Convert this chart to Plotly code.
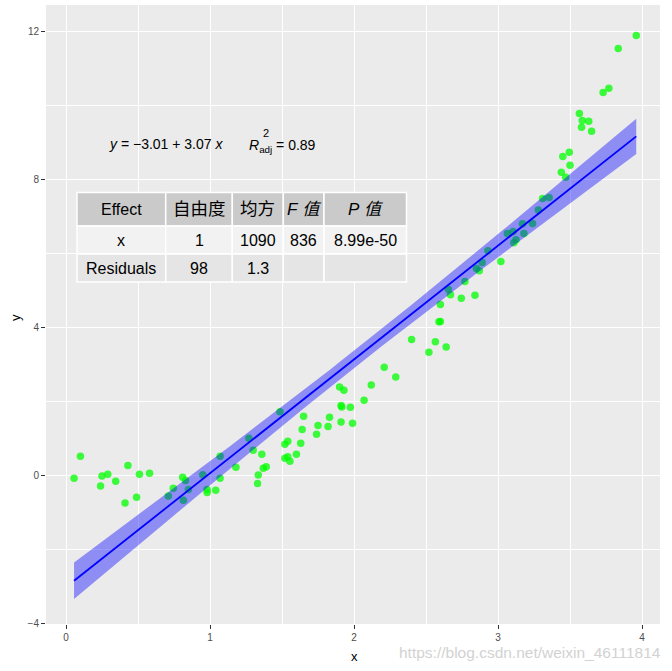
import numpy as np
import plotly.graph_objects as go

# ---------------- data ----------------
x_vals = [0.056, 0.10, 0.24, 0.25, 0.29, 0.345, 0.41, 0.43, 0.49, 0.51,
          0.58, 0.71, 0.745, 0.81, 0.815, 0.83, 0.85, 0.95, 0.98, 0.98,
          1.04, 1.07, 1.07, 1.18, 1.27, 1.30, 1.33, 1.335, 1.36, 1.37,
          1.39, 1.486, 1.52, 1.54, 1.52, 1.54, 1.555, 1.60, 1.63, 1.64,
          1.65, 1.74, 1.75, 1.82, 1.83, 1.90, 1.93, 1.91, 1.91, 1.915,
          1.975, 1.99, 2.07, 2.12, 2.21, 2.29, 2.40, 2.52, 2.565, 2.64,
          2.59, 2.60, 2.60, 2.655, 2.67, 2.745, 2.77, 2.84, 2.85, 2.87,
          2.89, 2.93, 3.02, 3.065, 3.105, 3.125, 3.11, 3.17, 3.18, 3.24,
          3.28, 3.31, 3.355, 3.44, 3.47, 3.45, 3.495, 3.50, 3.565, 3.585,
          3.63, 3.58, 3.65, 3.73, 3.77, 3.835, 3.96]
y_vals = [-0.09, 0.51, -0.30, -0.03, 0.02, -0.17, -0.76, 0.26, -0.60, 0.02,
          0.05, -0.57, -0.36, -0.06, -0.68, -0.15, -0.39, 0.01, -0.39, -0.47,
          -0.41, 0.51, -0.09, 0.21, 0.99, 0.67, -0.23, 0.00, 0.56, 0.18,
          0.22, 1.71, 0.83, 0.91, 0.45, 0.49, 0.37, 0.56, 0.86, 1.23,
          1.59, 1.10, 1.34, 1.31, 1.56, 2.38, 2.29, 1.43, 1.88, 1.84,
          1.83, 1.40, 2.02, 2.43, 2.91, 2.65, 3.66, 3.32, 3.60, 3.46,
          4.14, 4.15, 4.61, 5.02, 4.87, 4.78, 5.23, 4.86, 5.58, 5.52,
          5.74, 6.06, 5.77, 6.53, 6.58, 6.36, 6.28, 6.79, 6.53, 6.80,
          7.16, 7.47, 7.50, 8.18, 8.05, 8.61, 8.72, 8.37, 9.77, 9.58,
          9.56, 9.40, 9.29, 10.34, 10.45, 11.53, 11.88]

x_ticks = [0, 1, 2, 3, 4]
y_ticks = [-4, 0, 4, 8, 12]

x_title = "x"
y_title = "y"

eq_text = "<i>y</i> = \u22123.01 + 3.07 <i>x</i>"
r2_text = "<i>R</i><sub>adj</sub> = 0.89"

table_header = ["Effect", "自由度", "均方", "<i>F</i> <i>值</i>", "<i>P</i> <i>值</i>"]
table_rows = [["x", "1", "1090", "836", "8.99e-50"],
              ["Residuals", "98", "1.3", "", ""]]

watermark = "https://blog.csdn.net/weixin_46111814"

# ---------------- linear fit with 95% confidence band ----------------
X = np.array(x_vals)
Y = np.array(y_vals)
n = len(X)
slope, intercept = np.polyfit(X, Y, 1)
resid = Y - (intercept + slope * X)
s = np.sqrt(np.sum(resid ** 2) / (n - 2))
sxx = np.sum((X - X.mean()) ** 2)
t_crit = 1.985
xs = np.linspace(X.min(), X.max(), 80)
fit = intercept + slope * xs
se = s * np.sqrt(1.0 / n + (xs - X.mean()) ** 2 / sxx)
upper = fit + t_crit * se
lower = fit - t_crit * se

# ---------------- layout geometry helpers (pixels -> data / paper) ----------------
X0_PX, X_UNIT = 66.0, 144.0
Y0_PX, Y_UNIT = 475.0, 37.0
L, R, T, B = 46, 12, 5, 47
W, H = 672, 671
PW, PH = W - L - R, H - T - B


def px2x(px):
    return (px - X0_PX) / X_UNIT


def py2y(py):
    return (Y0_PX - py) / Y_UNIT


def px2paper(px):
    return (px - L) / PW


def py2paper(py):
    return (H - B - py) / PH


fig = go.Figure()

fig.add_trace(go.Scatter(
    x=x_vals, y=y_vals, mode="markers",
    marker=dict(size=7.5, color="rgba(0,255,0,0.75)", line=dict(width=0)),
    hoverinfo="skip", showlegend=False))

fig.add_trace(go.Scatter(
    x=np.concatenate([xs, xs[::-1]]), y=np.concatenate([upper, lower[::-1]]),
    fill="toself", fillcolor="rgba(0,0,255,0.4)", line=dict(width=0),
    mode="lines", hoverinfo="skip", showlegend=False))

fig.add_trace(go.Scatter(
    x=xs, y=fit, mode="lines", line=dict(color="#0000FF", width=1.8),
    hoverinfo="skip", showlegend=False))

# ---------------- table ----------------
col_edges = [77, 165.7, 232.3, 283.3, 324, 406.5]
row_edges = [192.5, 226, 254, 282]
row_fills = ["#CACACA", "#F2F2F2", "#E5E5E5"]
header_sizes = [16, 17.5, 17.5, 17, 17]
shapes = []
annotations = []
all_rows = [table_header] + table_rows
for r, row in enumerate(all_rows):
    for c, txt in enumerate(row):
        shapes.append(dict(
            type="rect", xref="x", yref="y", layer="above",
            x0=px2x(col_edges[c]), x1=px2x(col_edges[c + 1]),
            y0=py2y(row_edges[r]), y1=py2y(row_edges[r + 1]),
            fillcolor=row_fills[r], line=dict(color="white", width=1.5)))
        if txt:
            cx = (col_edges[c] + col_edges[c + 1]) / 2
            cy = (row_edges[r] + row_edges[r + 1]) / 2
            size = header_sizes[c] if r == 0 else 16
            annotations.append(dict(
                x=px2x(cx), y=py2y(cy), xref="x", yref="y", text=txt,
                showarrow=False, xanchor="center", yanchor="middle",
                font=dict(family="Liberation Sans, Noto Sans CJK SC",
                          size=size, color="black")))

# ---------------- equation labels ----------------
eq_font = dict(family="Liberation Sans, Arial", size=14, color="black")
annotations.append(dict(x=px2x(107), y=py2y(144), xref="x", yref="y",
                        text=eq_text, showarrow=False, xanchor="left",
                        yanchor="middle", font=eq_font))
annotations.append(dict(x=px2x(247), y=py2y(146), xref="x", yref="y",
                        text=r2_text, showarrow=False, xanchor="left",
                        yanchor="middle", font=eq_font))
annotations.append(dict(x=px2x(261), y=py2y(133), xref="x", yref="y",
                        text="2", showarrow=False, xanchor="left",
                        yanchor="middle",
                        font=dict(family="Liberation Sans, Arial", size=11,
                                  color="black")))

# ---------------- axis titles ----------------
title_font = dict(family="Liberation Sans, Arial", size=13, color="black")
annotations.append(dict(x=px2paper(354), y=py2paper(656), xref="paper",
                        yref="paper", text=x_title, showarrow=False,
                        xanchor="center", yanchor="middle", font=title_font))
annotations.append(dict(x=px2paper(15), y=py2paper(318), xref="paper",
                        yref="paper", text=y_title, showarrow=False,
                        textangle=-90, xanchor="center", yanchor="middle",
                        font=title_font))

# ---------------- watermark ----------------
annotations.append(dict(x=px2paper(663), y=py2paper(652),
                        xref="paper", yref="paper", text=watermark,
                        showarrow=False, xanchor="right", yanchor="middle",
                        font=dict(family="Liberation Sans, Arial", size=15.5,
                                  color="#D2D2D2")))

axis_common = dict(
    showgrid=True, gridcolor="white", gridwidth=1.1, zeroline=False,
    showline=False, ticks="outside", ticklen=4, tickwidth=1,
    tickcolor="#333333", automargin=False,
    tickfont=dict(family="Liberation Sans, Arial", size=10, color="#4D4D4D"),
)

fig.update_layout(
    width=W, height=H,
    margin=dict(l=L, r=R, t=T, b=B),
    paper_bgcolor="white", plot_bgcolor="#EBEBEB",
    shapes=shapes, annotations=annotations,
    xaxis=dict(range=[px2x(L), px2x(W - R)], tickvals=x_ticks,
               minor=dict(dtick=0.5, tick0=0, showgrid=True,
                          gridcolor="white", gridwidth=0.55),
               **axis_common),
    yaxis=dict(range=[py2y(H - B), py2y(T)], tickvals=y_ticks,
               minor=dict(dtick=2, tick0=0, showgrid=True,
                          gridcolor="white", gridwidth=0.55),
               **axis_common),
)

fig.write_html(
    "out.html",
    config={"displayModeBar": False},
    post_script="document.body.style.margin='0';"
                "document.body.style.padding='0';"
                "document.body.style.overflow='hidden';",
)
